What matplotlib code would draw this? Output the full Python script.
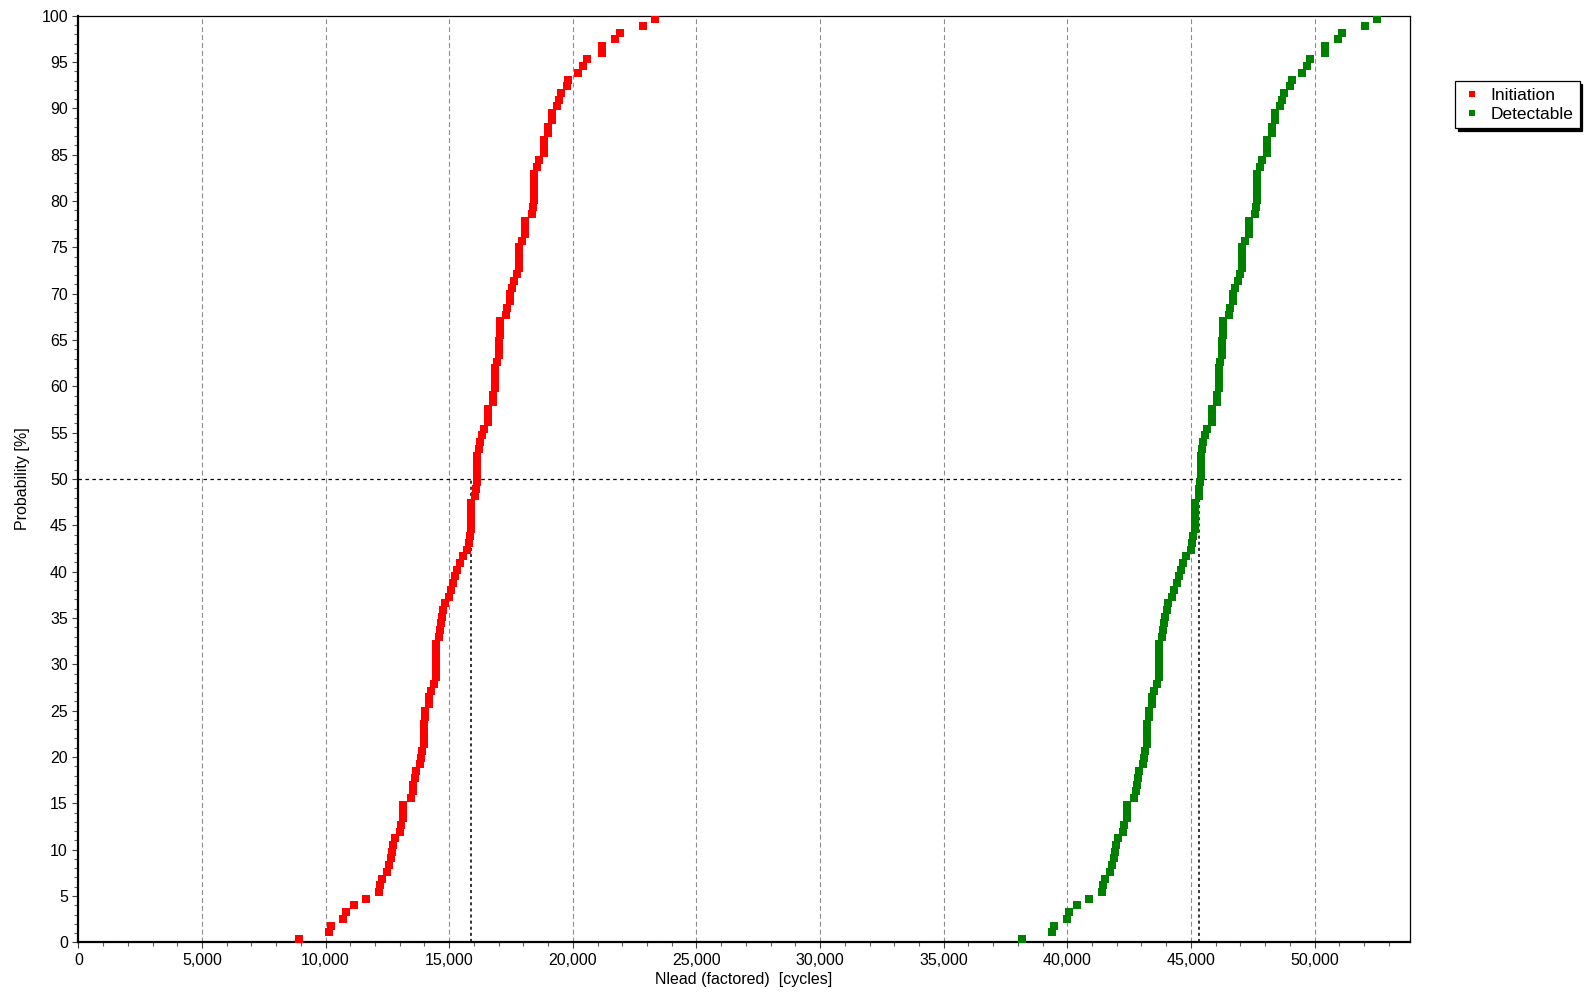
import numpy as np
import matplotlib
matplotlib.use("Agg")
import matplotlib.pyplot as plt
from matplotlib.ticker import MultipleLocator, FuncFormatter
from matplotlib.lines import Line2D

plt.rcParams['font.family'] = ['Liberation Sans', 'DejaVu Sans']
plt.rcParams['lines.scale_dashes'] = False

# sorted life values [cycles]
initiation = [
    8930, 10140, 10210, 10720, 10820, 11150, 11630, 12150, 12205, 12290,
    12480, 12560, 12640, 12690, 12720, 12820, 13010, 13040, 13150, 13150,
    13150, 13450, 13530, 13550, 13610, 13660, 13820, 13850, 13890, 13985,
    13985, 13985, 13985, 14040, 14040, 14175, 14175, 14255, 14390, 14445,
    14445, 14445, 14445, 14445, 14445, 14580, 14630, 14680, 14710, 14765,
    14820, 14985, 15065, 15170, 15250, 15330, 15440, 15550, 15735, 15795,
    15845, 15900, 15900, 15900, 15900, 15900, 16060, 16090, 16117, 16140,
    16140, 16140, 16140, 16200, 16250, 16330, 16410, 16585, 16585, 16585,
    16790, 16790, 16870, 16870, 16870, 16870, 16925, 17005, 17005, 17005,
    17060, 17060, 17060, 17290, 17330, 17465, 17465, 17545, 17640, 17735,
    17815, 17815, 17815, 17815, 17950, 18080, 18080, 18080, 18350, 18380,
    18430, 18430, 18430, 18430, 18430, 18560, 18625, 18840, 18840, 18840,
    19015, 19015, 19150, 19150, 19350, 19450, 19520, 19757, 19822, 20226,
    20430, 20566, 21173, 21173, 21700, 21914, 22832, 23329,
]

detectable = [
    38180, 39390, 39460, 39970, 40070, 40400, 40880, 41400, 41455, 41540,
    41730, 41810, 41890, 41940, 41970, 42070, 42260, 42290, 42400, 42400,
    42400, 42700, 42780, 42800, 42860, 42910, 43070, 43100, 43140, 43235,
    43235, 43235, 43235, 43290, 43290, 43425, 43425, 43505, 43640, 43695,
    43695, 43695, 43695, 43695, 43695, 43830, 43880, 43930, 43960, 44015,
    44070, 44235, 44315, 44420, 44500, 44580, 44690, 44800, 44985, 45045,
    45095, 45150, 45150, 45150, 45150, 45150, 45310, 45340, 45367, 45390,
    45390, 45390, 45390, 45450, 45500, 45580, 45660, 45835, 45835, 45835,
    46040, 46040, 46120, 46120, 46120, 46120, 46175, 46255, 46255, 46255,
    46310, 46310, 46310, 46540, 46580, 46715, 46715, 46795, 46890, 46985,
    47065, 47065, 47065, 47065, 47200, 47330, 47330, 47330, 47600, 47630,
    47680, 47680, 47680, 47680, 47680, 47810, 47875, 48090, 48090, 48090,
    48265, 48265, 48400, 48400, 48600, 48700, 48770, 49007, 49072, 49476,
    49680, 49816, 50423, 50423, 50950, 51110, 52050, 52525,
]

# 50% life marked on the chart
median_initiation = 15890
median_detectable = 45310
median_level = 50
median_line_end = 53500

series = [("Initiation", initiation, "#ff0000"),
          ("Detectable", detectable, "#008000")]

fig = plt.figure(figsize=(15.96, 10.01), dpi=100)
ax = fig.add_axes([0.0491, 0.0586, 0.8342, 0.9257])

# vertical gray grid
for gx in range(5000, 55000, 5000):
    ax.axvline(gx, color="#8c8c8c", lw=0.8, dashes=(3.5, 2.2), zorder=1)

# median guide lines
ax.plot([0, median_line_end], [median_level, median_level], color="black",
        lw=0.9, dashes=(2.5, 2.5), zorder=2)
for m in (median_initiation, median_detectable):
    ax.plot([m, m], [0, median_level], color="black", lw=1.1,
            dashes=(2.2, 2.2), zorder=2)

handles = []
for name, vals, col in series:
    v = np.sort(np.array(vals))
    n = len(v)
    prob = (np.arange(1, n + 1) - 0.5) / n * 100
    ax.plot(v, prob, ls="none", marker="s", ms=5.6, mfc=col, mec=col,
            mew=0, zorder=3)
    handles.append(Line2D([], [], ls="none", marker="s", ms=3.8, mfc=col,
                          mec=col, mew=0, label=name))

ax.set_xlim(0, 53850)
ax.set_ylim(0, 100)
ax.xaxis.set_major_locator(MultipleLocator(5000))
ax.xaxis.set_minor_locator(MultipleLocator(1000))
ax.yaxis.set_major_locator(MultipleLocator(5))
ax.yaxis.set_minor_locator(MultipleLocator(1))
ax.xaxis.set_major_formatter(FuncFormatter(lambda x, p: f"{int(x):,}"))

ax.tick_params(axis="both", which="major", direction="out", length=4.5,
               width=0.8, color="#404040", labelsize=11.5, pad=3)
ax.tick_params(axis="both", which="minor", direction="out", length=2.8,
               width=0.8, color="#606060")

for side in ("left", "bottom"):
    ax.spines[side].set_linewidth(1.6)
for side in ("top", "right"):
    ax.spines[side].set_linewidth(0.9)

ax.set_xlabel("Nlead (factored)  [cycles]", fontsize=11.5, labelpad=3)
ax.set_ylabel("Probability [%]", fontsize=11.5, labelpad=8)

leg = fig.legend(handles=handles, loc="upper left",
                 bbox_to_anchor=(0.9117, 0.9186), fontsize=12.5,
                 frameon=True, fancybox=False, edgecolor="black",
                 shadow={"color": "black", "alpha": 1.0},
                 handlelength=1.2, handletextpad=0.5, borderpad=0.35,
                 labelspacing=0.25, borderaxespad=0)
leg.get_frame().set_linewidth(0.9)

fig.savefig("out.png", dpi=100)
